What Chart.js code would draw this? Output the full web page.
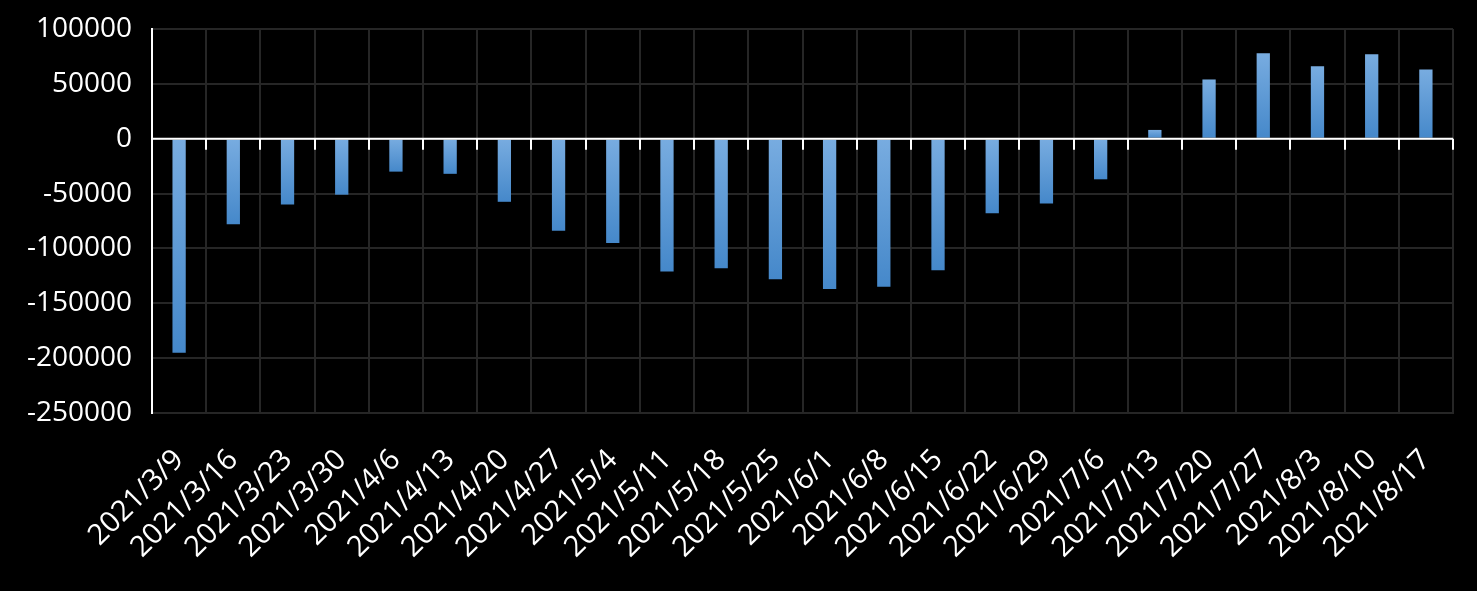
<!DOCTYPE html>
<html><head><meta charset="utf-8">
<script src="https://cdn.jsdelivr.net/npm/chart.js@4/dist/chart.umd.min.js"></script>
<style>html,body{margin:0;padding:0;background:#000;}#wrap{width:1477px;height:591px;}</style>
</head><body><div id="wrap"><canvas id="c" width="1477" height="591"></canvas></div>
<script>
const categories = ["2021/3/9","2021/3/16","2021/3/23","2021/3/30","2021/4/6","2021/4/13","2021/4/20","2021/4/27","2021/5/4","2021/5/11","2021/5/18","2021/5/25","2021/6/1","2021/6/8","2021/6/15","2021/6/22","2021/6/29","2021/7/6","2021/7/13","2021/7/20","2021/7/27","2021/8/3","2021/8/10","2021/8/17"];
const values = [-195000,-78000,-60000,-51000,-30000,-32000,-57500,-84000,-95000,-121000,-118000,-128000,-137000,-135000,-120000,-68000,-59000,-37000,8000,54000,78000,66000,77000,63000];
const yMin = -250000, yMax = 100000, yStep = 50000;

function barGradient(context) {
  const chart = context.chart;
  const ys = chart.scales && chart.scales.y;
  if (!chart.chartArea || !ys) return '#5a9ad6';
  const v = context.raw;
  const p1 = ys.getPixelForValue(v), p0 = ys.getPixelForValue(0);
  const top = Math.min(p0, p1), bot = Math.max(p0, p1);
  const g = chart.ctx.createLinearGradient(0, top, 0, bot + 0.01);
  g.addColorStop(0, '#78ace0');
  g.addColorStop(1, '#4588ca');
  return g;
}

const zeroPlugin = {
  id: 'zero',
  afterDatasetsDraw(chart) {
    const ctx = chart.ctx, y = chart.scales.y.getPixelForValue(0), a = chart.chartArea;
    ctx.save();
    ctx.strokeStyle = '#ffffff';
    ctx.lineWidth = 2;
    ctx.beginPath();
    ctx.moveTo(a.left, y); ctx.lineTo(a.right, y);
    const n = categories.length;
    for (let i = 0; i <= n; i++) {
      const x = Math.round(a.left + (a.right - a.left) * i / n);
      ctx.moveTo(x, y); ctx.lineTo(x, y + 11);
    }
    ctx.stroke();
    ctx.beginPath();
    ctx.moveTo(a.left, a.top); ctx.lineTo(a.left, a.bottom);
    ctx.stroke();
    ctx.restore();
  }
};

const yFont = {family: "'Open Sans', 'Noto Sans', sans-serif", size: 28};
const xFont = {family: "'Open Sans', 'Noto Sans', sans-serif", size: 29};
new Chart(document.getElementById('c'), {
  type: 'bar',
  data: {labels: categories, datasets: [{data: values, backgroundColor: barGradient, barPercentage: 0.245, categoryPercentage: 1.0}]},
  options: {
    responsive: false, animation: false, devicePixelRatio: 1,
    layout: {padding: {top: 29, right: 24, left: 0, bottom: 0}},
    plugins: {legend: {display: false}, tooltip: {enabled: false}},
    scales: {
      x: {
        offset: true,
        grid: {color: '#262626', lineWidth: 2, drawTicks: false, offset: true},
        border: {color: '#262626', width: 2},
        ticks: {color: '#ffffff', font: xFont, minRotation: 45, maxRotation: 45, autoSkip: false, padding: 30},
        afterFit(s) { s.height = 178; s.paddingLeft = 0; s.paddingRight = 0; }
      },
      y: {
        min: yMin, max: yMax,
        grid: {color: '#262626', lineWidth: 2, drawTicks: false},
        border: {color: '#ffffff', width: 2},
        ticks: {color: '#ffffff', font: yFont, stepSize: yStep, padding: 20, callback: v => String(v)},
        afterFit(s) { s.width = 152; s.paddingTop = 0; s.paddingBottom = 0; }
      }
    }
  },
  plugins: [zeroPlugin]
});
</script></body></html>
